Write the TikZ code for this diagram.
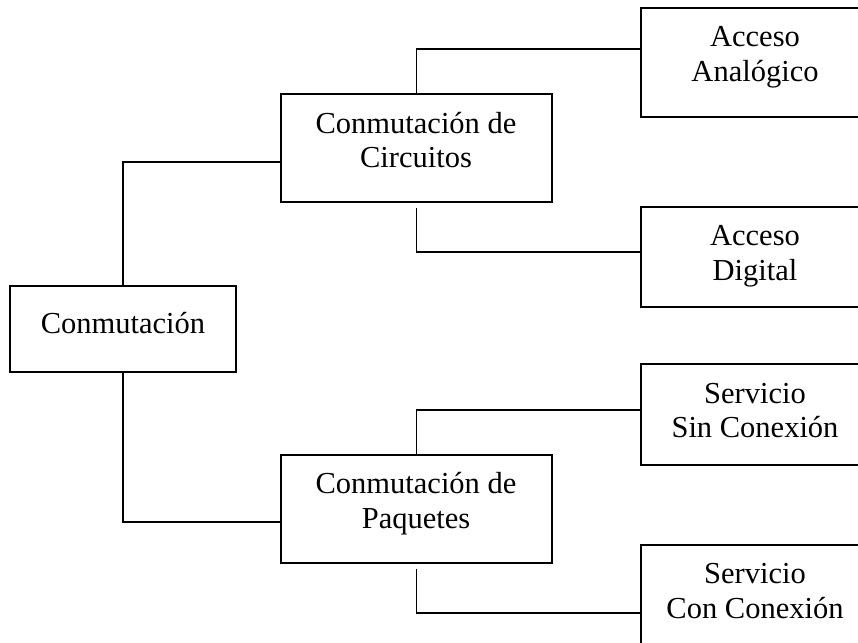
\documentclass[tikz,border=0pt]{standalone}
\usepackage{fontspec}
\setmainfont{Liberation Serif}
\begin{document}
\begin{tikzpicture}[x=1pt,y=-1pt,
  box/.style={draw=black, line width=1.2pt, rectangle, inner sep=0pt},
  lbl/.style={anchor=base, inner sep=0pt, font=\fontsize{30.5}{35}\selectfont},
  link/.style={draw=black, line width=1.2pt}]
  \useasboundingbox (0,0) rectangle (858,642);
  \clip (0,0) rectangle (858,642);
  \fill[white] (0,0) rectangle (858,642);

  % boxes
  \node[box, minimum width=226pt, minimum height=86pt]  (com) at (123,329)   {};
  \node[box, minimum width=271pt, minimum height=108pt] (cir) at (416.5,148) {};
  \node[box, minimum width=271pt, minimum height=108pt] (paq) at (416.5,509) {};
  \node[box, minimum width=228pt, minimum height=109pt] (ana) at (755,62.5)  {};
  \node[box, minimum width=228pt, minimum height=100pt] (dig) at (755,257)   {};
  \node[box, minimum width=228pt, minimum height=101pt] (sin) at (755,414.5) {};
  \node[box, minimum width=228pt, minimum height=100pt] (con) at (755,595)   {};

  % labels
  \node[lbl] (comA) at (123,333) {Conmutación};
  \node[lbl] (cirA) at (416,133) {Conmutación de};
  \node[lbl] (cirB) at (416,167) {Circuitos};
  \node[lbl] (paqA) at (416,493) {Conmutación de};
  \node[lbl] (paqB) at (416,528) {Paquetes};
  \node[lbl] (anaA) at (755,46)  {Acceso};
  \node[lbl] (anaB) at (755,81)  {Analógico};
  \node[lbl] (digA) at (755,245) {Acceso};
  \node[lbl] (digB) at (755,280) {Digital};
  \node[lbl] (sinA) at (755,403) {Servicio};
  \node[lbl] (sinB) at (755,437) {Sin Conexión};
  \node[lbl] (conA) at (755,583) {Servicio};
  \node[lbl] (conB) at (755,618) {Con Conexión};

  % connectors
  \draw[link] (com.north) |- ([yshift=-14pt]cir.west);
  \draw[link] (com.south) |- ([yshift=-13pt]paq.west);
  \draw[link] (cir.north) |- ([yshift=13.5pt]ana.west);
  \draw[link] ([yshift=-5pt]cir.south) |- ([yshift=5pt]dig.west);
  \draw[link] (paq.north) |- ([yshift=4.5pt]sin.west);
  \draw[link] ([yshift=-5pt]paq.south) |- ([yshift=-18pt]con.west);
\end{tikzpicture}
\end{document}
